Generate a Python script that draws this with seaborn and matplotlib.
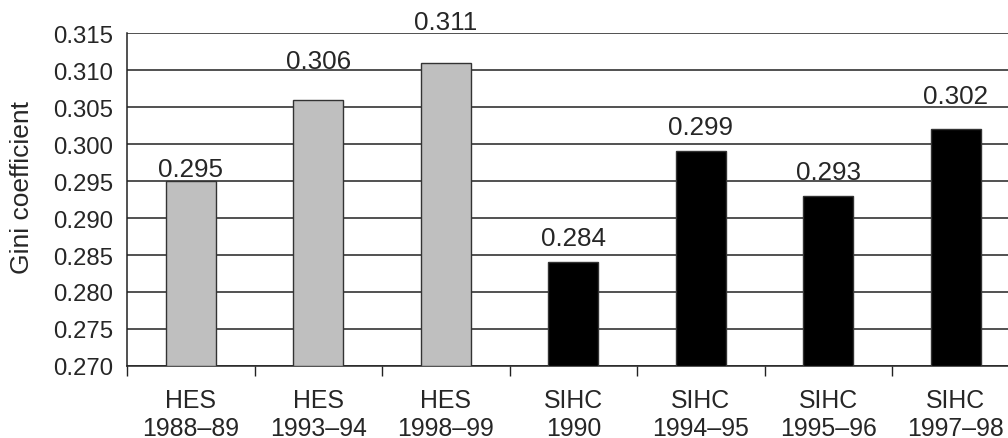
import matplotlib
matplotlib.use('Agg')
import matplotlib.pyplot as plt
import seaborn as sns
import pandas as pd

# survey and year for each bar
surveys = ['HES', 'HES', 'HES', 'SIHC', 'SIHC', 'SIHC', 'SIHC']
years = ['1988\u201389', '1993\u201394', '1998\u201399', '1990',
         '1994\u201395', '1995\u201396', '1997\u201398']
gini = [0.295, 0.306, 0.311, 0.284, 0.299, 0.293, 0.302]
yticks = [0.270, 0.275, 0.280, 0.285, 0.290, 0.295, 0.300, 0.305, 0.310, 0.315]

# gap between bar top and value label (pixels), as placed in the original
label_gap_px = [5, 32, 34, 17, 17, 17, 26]

colors = {'HES': '#bfbfbf', 'SIHC': '#000000'}

df = pd.DataFrame({'label': [s + '\n' + y for s, y in zip(surveys, years)],
                   'survey': surveys, 'gini': gini})

sns.set_style('white')
plt.rcParams['font.family'] = ['Liberation Sans', 'DejaVu Sans']

fig = plt.figure(figsize=(10.08, 4.39), dpi=100)
ax = fig.add_axes([127 / 1008, 1 - 367 / 439, (1019.5 - 127) / 1008, (367 - 34) / 439])

# bars drawn from the bottom of the axis
base = yticks[0]
df['height'] = df['gini'] - base
sns.barplot(data=df, x='label', y='height', hue='survey', palette=colors,
            bottom=base, width=0.39, dodge=False, legend=False,
            edgecolor='#333333', linewidth=1, ax=ax, zorder=3)

ax.set_ylim(yticks[0], yticks[-1])
ax.set_yticks(yticks)
ax.set_yticklabels(['%.3f' % t for t in yticks], fontsize=17.3)
ax.yaxis.grid(True, color='#222222', linewidth=1.1, zorder=0)
ax.set_axisbelow(True)
ax.tick_params(axis='y', length=0, pad=10)

# x ticks sit between categories
ax.set_xlim(-0.5, len(gini) - 0.5)
ax.set_xticks([i - 0.5 for i in range(len(gini))])
ax.set_xticklabels([])
ax.set_xticks(range(len(gini)), minor=True)
ax.set_xticklabels(df['label'], minor=True, fontsize=17.9, linespacing=1.2)
ax.tick_params(axis='x', which='major', direction='out', length=7, width=1, color='#222222', bottom=True)
ax.tick_params(axis='x', which='minor', length=0, pad=16)

ax.set_xlabel('')
ax.set_ylabel('Gini coefficient', fontsize=19)
ax.yaxis.set_label_coords(-0.104, 0.54)

for side in ['top', 'right']:
    ax.spines[side].set_visible(False)
for side in ['left', 'bottom']:
    ax.spines[side].set_color('#222222')
    ax.spines[side].set_linewidth(1.1)

for i, v in enumerate(gini):
    ax.annotate('%.3f' % v, (i, v), xytext=(0, label_gap_px[i] * 0.72), textcoords='offset points',
                ha='center', va='baseline', fontsize=18.7, annotation_clip=False)

fig.savefig('out.png', dpi=100)
